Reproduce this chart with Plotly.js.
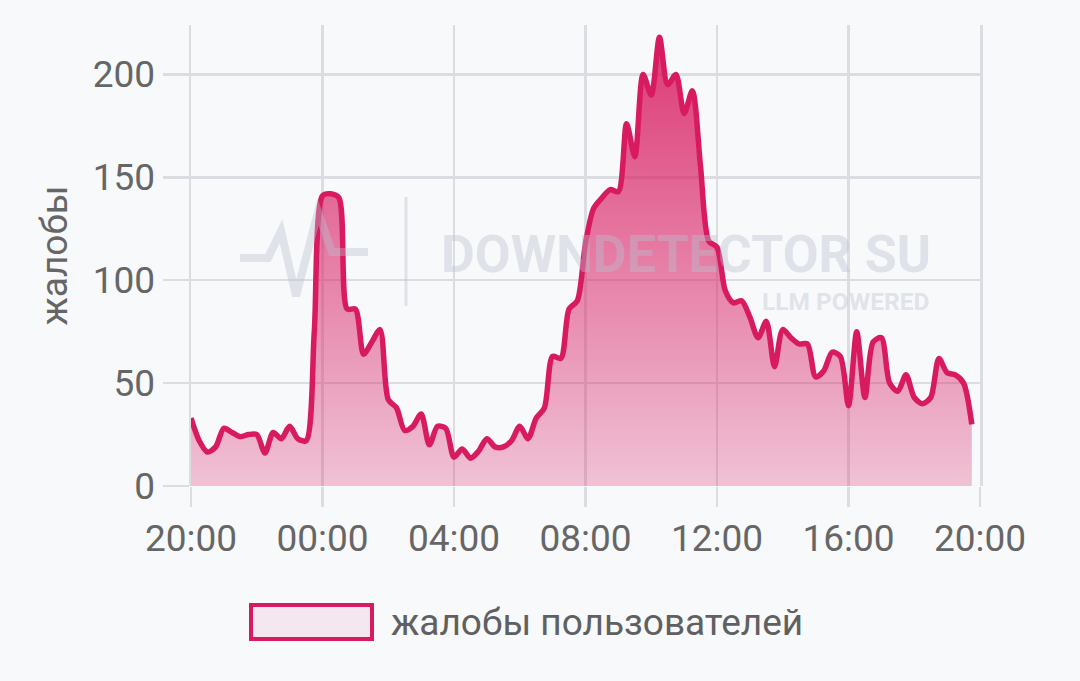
<!DOCTYPE html>
<html>
<head>
<meta charset="utf-8">
<script src="https://cdn.plot.ly/plotly-3.0.1.min.js"></script>
<style>
  html, body { margin: 0; padding: 0; background: #f8f9fb; }
  #chart { width: 1080px; height: 681px; }
</style>
</head>
<body>
<div id="chart"></div>
<script>
// ---- data (15-minute samples starting 20:00) ----
const seriesName = "жалобы пользователей";
const yTitle = "жалобы";
const startTime = "2024-01-01 20:00";
const endTime = "2024-01-02 20:00";
const stepMinutes = 15;
const complaints = [
  33, 22, 16.5, 19, 28, 26, 24, 25, 25, 16, 26, 23, 29, 23, 22, 75,
  141, 142, 140, 86, 86, 64, 70, 76, 42, 38, 27, 29, 35, 20, 29, 28,
  14, 18, 13.5, 17, 23, 19, 19, 22, 29, 23, 33, 38, 63, 62, 86, 90,
  118, 135, 140, 144, 143, 176, 160, 200, 190, 218, 195, 200, 181, 192,
  155, 119, 116, 95, 89, 90, 82, 72, 80, 58, 76, 72, 69, 69, 53, 56,
  65, 63, 39, 75, 43, 70, 72, 50, 46, 54, 43, 40, 43, 62, 55, 54, 50, 30
];
const yTickVals = [0, 50, 100, 150, 200];
const watermarkMain = "DOWNDETECTOR SU";
const watermarkSub = "LLM POWERED";

// timestamps for each sample
function pad(n) { return (n < 10 ? "0" : "") + n; }
const t0 = new Date(startTime.replace(" ", "T") + ":00Z").getTime();
const times = complaints.map((_, i) => {
  const d = new Date(t0 + i * stepMinutes * 60000);
  return d.getUTCFullYear() + "-" + pad(d.getUTCMonth() + 1) + "-" + pad(d.getUTCDate()) +
    " " + pad(d.getUTCHours()) + ":" + pad(d.getUTCMinutes());
});

const lineColor = "#d81b60";
const gridColor = "#dcdde2";
const textColor = "#666666";
const wmColor = "rgba(185,192,208,0.40)";
const fontFam = "Roboto, 'Noto Sans', sans-serif";
const fs = 37;

const trace = {
  x: times,
  y: complaints,
  type: "scatter",
  mode: "lines",
  name: seriesName,
  line: { color: lineColor, width: 5.5, shape: "spline", smoothing: 0.8 },
  fill: "tozeroy",
  fillgradient: {
    type: "vertical",
    start: 0,
    stop: 224,
    colorscale: [[0, "rgba(216,27,96,0.25)"], [1, "rgba(216,27,96,0.88)"]]
  },
  showlegend: false,
  hoverinfo: "x+y"
};

// helper: pixel -> paper
const L = 191, R = 980, T = 25, B = 486;
const px = x => (x - L) / (R - L);
const py = y => (B - y) / (B - T);

const iconPts = [[240,258],[268,258],[281,231],[296,296],[318,212],[332,252],[368,252]];
const iconPath = iconPts.map((p, i) => (i ? "L" : "M") + px(p[0]).toFixed(4) + "," + py(p[1]).toFixed(4)).join(" ");

const layout = {
  width: 1080,
  height: 681,
  margin: { l: L, r: 1080 - R, t: T, b: 681 - B, pad: 0 },
  paper_bgcolor: "#f8f9fb",
  plot_bgcolor: "#f8f9fb",
  font: { family: fontFam, color: textColor, size: fs },
  xaxis: {
    type: "date",
    range: [startTime, endTime],
    tick0: startTime,
    dtick: 4 * 3600000,
    tickformat: "%H:%M",
    showgrid: true,
    gridcolor: gridColor,
    gridwidth: 2.5,
    ticks: "outside",
    ticklen: 20,
    tickwidth: 2.5,
    tickcolor: gridColor,
    zeroline: false,
    showline: false,
    tickfont: { size: fs, color: textColor, family: fontFam },
    fixedrange: true
  },
  yaxis: {
    range: [0, 224],
    tickvals: yTickVals,
    showgrid: true,
    gridcolor: gridColor,
    gridwidth: 2.5,
    ticks: "outside",
    ticklen: 26,
    tickwidth: 2.5,
    tickcolor: gridColor,
    zeroline: false,
    showline: true,
    mirror: true,
    linecolor: gridColor,
    linewidth: 2.5,
    tickfont: { size: fs, color: textColor, family: fontFam },
    title: { text: yTitle, font: { size: fs, color: textColor, family: fontFam }, standoff: 14 },
    fixedrange: true
  },
  shapes: [
    { type: "line", xref: "paper", yref: "paper", x0: px(406), x1: px(406), y0: py(306), y1: py(197),
      line: { color: wmColor, width: 3 }, layer: "above" },
    { type: "path", xref: "paper", yref: "paper", path: iconPath,
      line: { color: wmColor, width: 8 }, layer: "above" },
    { type: "rect", xref: "paper", yref: "paper", x0: px(251), x1: px(372), y0: py(639), y1: py(605),
      fillcolor: "rgba(216,27,96,0.08)", line: { color: lineColor, width: 4 } }
  ],
  annotations: [
    { xref: "paper", yref: "paper", x: px(932), y: py(254), xanchor: "right", yanchor: "middle",
      text: watermarkMain, showarrow: false, borderpad: 0, height: 46,
      font: { family: "Roboto, sans-serif", size: 52, color: wmColor, weight: 700 } },
    { xref: "paper", yref: "paper", x: px(930), y: py(301), xanchor: "right", yanchor: "middle",
      text: watermarkSub, showarrow: false, borderpad: 0, height: 22,
      font: { family: "Roboto, sans-serif", size: 24.5, color: wmColor, weight: 700 } },
    { xref: "paper", yref: "paper", x: px(389), y: py(622), xanchor: "left", yanchor: "middle",
      text: seriesName, showarrow: false,
      font: { family: fontFam, size: fs, color: "#606060" } }
  ],
  showlegend: false
};

Plotly.newPlot("chart", [trace], layout, { displayModeBar: false, staticPlot: true });
</script>
</body>
</html>
